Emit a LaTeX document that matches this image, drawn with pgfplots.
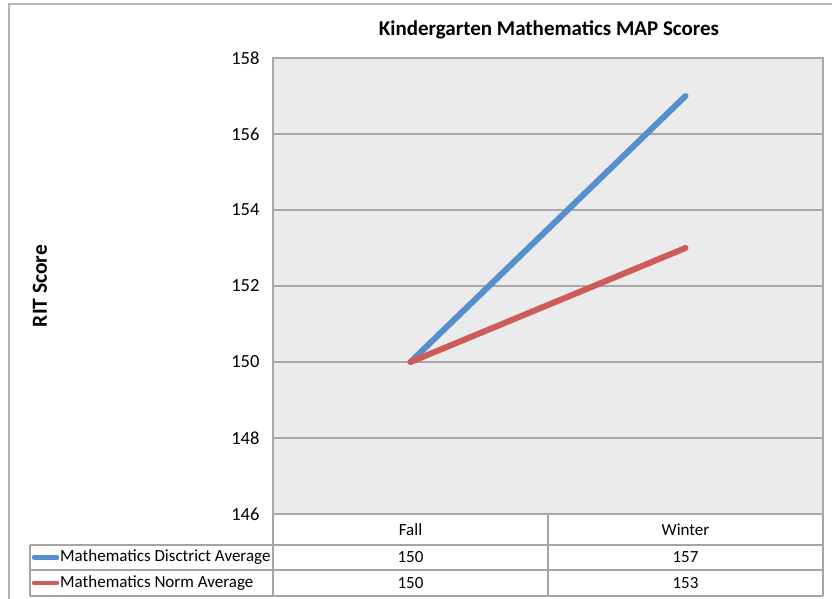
\documentclass[border=0pt]{standalone}
\usepackage{pgfplots}
\pgfplotsset{compat=1.18}
\usepackage{fontspec}
\setmainfont{Carlito}
\definecolor{serblue}{RGB}{86,142,206}
\definecolor{serred}{RGB}{205,91,87}
\definecolor{plotbg}{RGB}{235,235,235}
\definecolor{gridc}{RGB}{168,168,168}
\definecolor{tabc}{RGB}{165,165,165}
\definecolor{framec}{RGB}{180,180,180}
\begin{document}
\begin{tikzpicture}[x=1bp,y=1bp]
\useasboundingbox (0,0) rectangle (832,599);
% outer chart frame
\draw[framec, line width=1.5bp] (9,0) -- (9,595) -- (832,595);
\begin{axis}[
  at={(273bp,85bp)}, anchor=south west,
  scale only axis, width=550bp, height=456bp,
  xmin=0, xmax=2, ymin=146, ymax=158,
  xtick=\empty,
  ytick={146,148,...,158},
  major tick length=0pt,
  ymajorgrids,
  grid style={gridc, line width=1.3bp},
  axis background/.style={fill=plotbg},
  axis line style={gridc, line width=1.3bp},
  /pgf/number format/assume math mode=true,
  yticklabel style={font=\fontsize{18.5bp}{21bp}\selectfont, xshift=-10bp},
  clip=false,
]
\addplot[serblue, line width=6bp, line cap=round] coordinates {(0.5,150) (1.5,157)};
\addplot[serred, line width=6bp, line cap=round] coordinates {(0.5,150) (1.5,153)};
\end{axis}
% title and y label
\node[font=\bfseries\fontsize{21bp}{24bp}\selectfont] at (549,569) {Kindergarten Mathematics MAP Scores};
\node[font=\bfseries\fontsize{21.5bp}{24bp}\selectfont, rotate=90] at (40,313) {RIT Score};
% data table grid
\begin{scope}[tabc, line width=1.5bp]
\draw (273,85) -- (273,3);
\draw (548,85) -- (548,3);
\draw (823,85) -- (823,3);
\draw (30,54) -- (30,3);
\draw (30,54) -- (823,54);
\draw (30,29) -- (823,29);
\draw (30,3) -- (823,3);
\end{scope}
\draw[gridc, line width=1.5bp] (273,85) -- (823,85);
% legend keys
\draw[serblue, line width=4.5bp, line cap=round] (34,41.5) -- (57,41.5);
\draw[serred, line width=4.5bp, line cap=round] (34,16) -- (57,16);
% table text
\begin{scope}[every node/.style={font=\fontsize{17bp}{20bp}\selectfont, inner sep=0pt}]
\node at (410.5,69) {Fall};
\node at (685.5,69) {Winter};
\node[anchor=west] at (60,41.5) {Mathematics Disctrict Average};
\node[anchor=west] at (60,16) {Mathematics Norm Average};
\node at (410.5,41.5) {150};
\node at (685.5,41.5) {157};
\node at (410.5,16) {150};
\node at (685.5,16) {153};
\end{scope}
\end{tikzpicture}
\end{document}
